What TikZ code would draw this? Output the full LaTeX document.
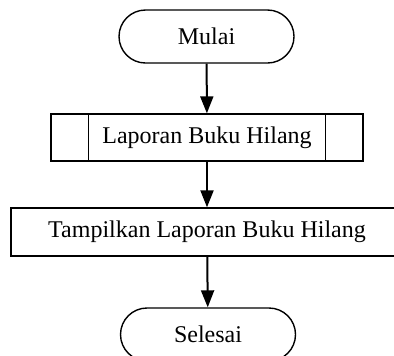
\documentclass[tikz,border=0pt]{standalone}
\usepackage{fontspec}
\setmainfont{Liberation Serif}
\usetikzlibrary{shapes.misc, arrows.meta}

\begin{document}
\begin{tikzpicture}[x=0.5pt, y=-0.5pt,
    terminal/.style={draw, line width=0.7pt, rounded rectangle, minimum width=87.5pt, minimum height=26.5pt, inner sep=0pt},
    subproc/.style={draw, line width=0.7pt, rectangle, minimum width=156pt, minimum height=23.5pt, inner sep=0pt},
    proc/.style={draw, line width=0.7pt, rectangle, minimum width=196pt, minimum height=24pt, inner sep=0pt},
    arrow/.style={line width=1pt, -{Triangle[width=6.5pt, length=8.5pt]}}]
\useasboundingbox (0,0) rectangle (394,355);
\fontsize{12}{14}\selectfont

% Nodes
\node[terminal] (mulai) at (206.5, 36.5) {Mulai};
\node[subproc] (laporan) at (207, 137.5) {Laporan Buku Hilang};
\node[proc] (tampil) at (207, 232) {Tampilkan Laporan Buku Hilang};
\node[terminal] (selesai) at (208, 334.5) {Selesai};

% Side bars of the subprocess box
\draw[line width=0.7pt] ([xshift=19pt]laporan.north west) -- ([xshift=19pt]laporan.south west);
\draw[line width=0.7pt] ([xshift=-19pt]laporan.north east) -- ([xshift=-19pt]laporan.south east);

% Arrows
\draw[arrow] (mulai) -- (laporan);
\draw[arrow] (laporan) -- (tampil);
\draw[arrow] (tampil) -- (selesai);
\end{tikzpicture}
\end{document}
